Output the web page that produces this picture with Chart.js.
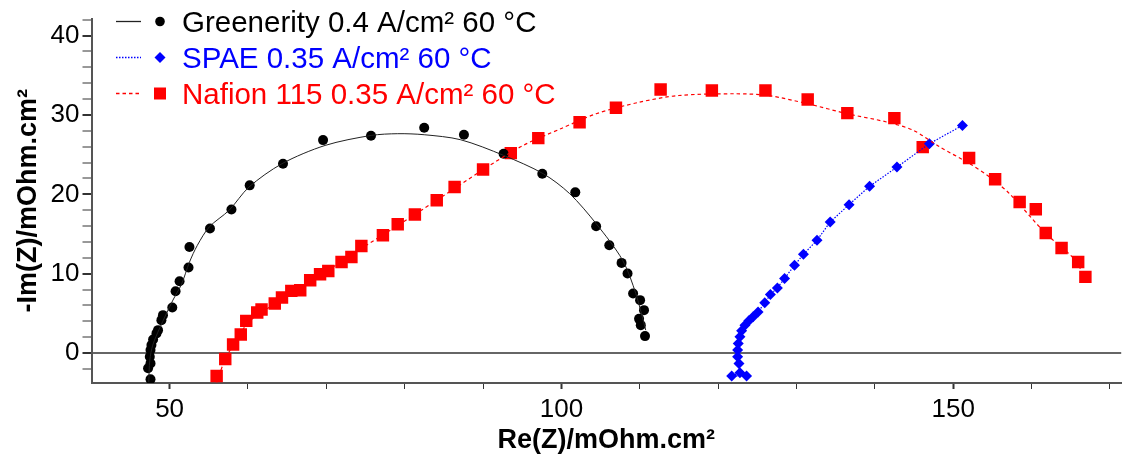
<!DOCTYPE html>
<html>
<head>
<meta charset="utf-8">
<script src="https://cdn.jsdelivr.net/npm/chart.js@4.4.1/dist/chart.umd.min.js"></script>
<style>
  html, body { margin: 0; padding: 0; background: #fff; }
  #wrap { width: 1130px; height: 461px; }
</style>
</head>
<body>
<div id="wrap"><canvas id="chart" width="1130" height="461"></canvas></div>
<script>
// legend texts
const LABELS = ['Greenerity 0.4 A/cm² 60 °C', 'SPAE 0.35 A/cm² 60 °C', 'Nafion 115 0.35 A/cm² 60 °C'];

// measured points [Re, -Im]
const GREENERITY = [
    [47.56, -3.31], [47.25, -1.92], [47.56, -1.30], [47.47, -0.47], [47.56, 0.38],
    [47.68, 1.01], [47.89, 1.72], [48.32, 2.48], [48.52, 2.89], [48.95, 4.15],
    [49.15, 4.78], [50.34, 5.75], [50.76, 7.80], [51.27, 9.06], [52.41, 10.78],
    [52.53, 13.37], [55.15, 15.69], [57.89, 18.08], [60.22, 21.13], [64.47, 23.86],
    [69.58, 26.83], [75.70, 27.38], [82.49, 28.39], [87.56, 27.51], [92.62, 25.12],
    [97.56, 22.60], [101.77, 20.25], [104.43, 15.97], [106.11, 13.58], [107.68, 11.36],
    [108.44, 10.03], [109.15, 7.51], [110.04, 6.67], [110.54, 5.41], [109.91, 4.31],
    [110.13, 3.52], [110.67, 2.14]
];
const SPAE = [
    [123.63, -2.89], [121.73, -2.89], [122.78, -2.48], [122.66, -1.30], [122.49, -0.47],
    [122.49, 0.38], [122.57, 1.22], [122.78, 2.05], [123.00, 2.81], [123.42, 3.52],
    [123.92, 4.06], [124.47, 4.57], [125.10, 5.19], [125.95, 6.33], [126.67, 7.38],
    [127.56, 8.21], [128.48, 9.40], [129.75, 11.07], [130.89, 12.45], [132.62, 14.21],
    [134.30, 16.52], [136.71, 18.70], [139.33, 21.01], [142.82, 23.43], [146.96, 26.38],
    [151.18, 28.68]
];
const NAFION = [
    [56.00, -2.89], [57.10, -0.75], [58.10, 1.09], [59.08, 2.35], [59.78, 4.06],
    [61.18, 5.12], [61.73, 5.50], [63.42, 6.25], [64.34, 7.01], [65.53, 7.84],
    [66.67, 7.92], [67.94, 9.18], [69.20, 9.94], [70.25, 10.35], [71.94, 11.48],
    [73.20, 12.11], [74.47, 13.50], [77.22, 14.84], [79.11, 16.23], [81.30, 17.45],
    [84.09, 19.25], [86.37, 20.92], [90.00, 23.14], [93.54, 25.19], [97.05, 27.08],
    [102.32, 29.09], [106.96, 30.91], [112.66, 33.21], [119.20, 33.08], [126.04, 33.08],
    [131.43, 31.95], [136.49, 30.23], [142.49, 29.60], [146.11, 25.95], [152.03, 24.57],
    [155.35, 21.89], [158.48, 19.03], [160.54, 18.11], [161.81, 15.13], [163.83, 13.25],
    [165.95, 11.48], [166.87, 9.60]
];

// fitted curves
const GREENERITY_FIT = [
    [47.34, -3.65], [47.47, -0.88], [47.85, 1.01], [48.73, 3.14], [50.42, 6.67],
    [51.52, 8.68], [52.53, 11.45], [53.54, 13.58], [55.06, 15.89], [57.59, 17.99],
    [60.13, 20.92], [64.34, 23.86], [69.84, 26.16], [75.73, 27.42], [79.11, 27.64],
    [82.49, 27.51], [87.13, 26.88], [92.62, 24.91], [97.68, 22.60], [101.05, 20.09],
    [104.43, 16.31], [107.81, 11.70], [109.49, 7.51], [110.76, 2.89]
];
const NAFION_FIT = [
    [56.0, -3.7], [57.1, -0.75], [58.3, 1.3], [60.0, 3.8], [62.0, 5.3], [66.0, 7.8],
    [70.0, 10.3], [74.5, 13.2], [79.0, 16.0], [84.0, 19.2], [90.0, 23.1], [95.0, 26.1],
    [100.0, 28.3], [104.43, 30.15], [109.91, 31.6], [114.97, 32.45], [122.15, 32.67],
    [126.37, 32.45], [131.43, 31.41], [136.49, 30.15], [141.56, 29.1], [144.94, 28.05],
    [148.32, 25.95], [152.11, 23.86], [154.65, 22.18], [157.18, 20.09], [161.81, 15.06],
    [165.19, 12.11], [166.87, 9.6]
];

const X_MIN = 40.03, X_MAX = 171.44, Y_MIN = -3.77, Y_MAX = 42.14;
const FONT = "'Liberation Sans', Arial, sans-serif";

const pts = arr => arr.map(([x, y]) => ({x, y}));

const legendPlugin = {
    id: 'nyquistLegend',
    afterDraw(chart) {
        const ctx = chart.ctx;
        const rows = [
            {color: '#000', line: '#222', dash: [], marker: 'circle'},
            {color: '#0000ff', line: '#0000ff', dash: [1.5, 1.5], marker: 'diamond'},
            {color: '#ff0000', line: '#ff0000', dash: [3.5, 3], marker: 'square'},
        ];
        ctx.save();
        rows.forEach((r, i) => {
            const base = 31.5 + i * 36;
            const my = base - 10;
            ctx.strokeStyle = r.line;
            ctx.lineWidth = 1.3;
            ctx.setLineDash(r.dash);
            ctx.beginPath();
            ctx.moveTo(116, my);
            ctx.lineTo(141, my);
            ctx.stroke();
            ctx.setLineDash([]);
            ctx.fillStyle = r.color;
            ctx.beginPath();
            if (r.marker === 'circle') {
                ctx.arc(160, my, 4.8, 0, Math.PI * 2);
            } else if (r.marker === 'diamond') {
                ctx.moveTo(160, my - 5.5);
                ctx.lineTo(165.5, my);
                ctx.lineTo(160, my + 5.5);
                ctx.lineTo(154.5, my);
                ctx.closePath();
            } else {
                ctx.rect(154, my - 6, 12, 12);
            }
            ctx.fill();
            ctx.font = '29.5px ' + FONT;
            ctx.textBaseline = 'alphabetic';
            ctx.textAlign = 'left';
            ctx.fillText(LABELS[i], 182, base);
        });
        ctx.restore();
    }
};

new Chart(document.getElementById('chart'), {
    type: 'scatter',
    data: {
        datasets: [
            {
                data: pts(GREENERITY_FIT),
                showLine: true,
                tension: 0.3,
                borderColor: '#222',
                borderWidth: 1,
                pointRadius: 0,
            },
            {
                data: pts(NAFION_FIT),
                showLine: true,
                tension: 0.3,
                borderColor: '#ff0000',
                borderWidth: 1.2,
                borderDash: [3.5, 3],
                pointRadius: 0,
            },
            {
                label: LABELS[1],
                data: pts(SPAE),
                showLine: true,
                borderColor: '#0000ff',
                borderWidth: 1.2,
                borderDash: [1.5, 1.5],
                backgroundColor: '#0000ff',
                pointStyle: 'rectRot',
                pointRadius: 5.5,
                pointBorderWidth: 0,
            },
            {
                label: LABELS[0],
                data: pts(GREENERITY),
                backgroundColor: '#000',
                pointStyle: 'circle',
                pointRadius: 5,
                pointBorderWidth: 0,
            },
            {
                label: LABELS[2],
                data: pts(NAFION),
                backgroundColor: '#ff0000',
                pointStyle: 'rect',
                pointRadius: 8.8,
                pointBorderWidth: 0,
            },
        ]
    },
    options: {
        responsive: false,
        animation: false,
        layout: {padding: {top: 18, right: 1, left: 0, bottom: 0}},
        scales: {
            x: {
                type: 'linear',
                min: X_MIN,
                max: X_MAX,
                afterFit: s => { s.height = 78; },
                border: {color: '#555', width: 2},
                grid: {
                    drawOnChartArea: false,
                    tickLength: 6,
                    tickColor: '#333',
                    tickWidth: c => (c.tick && c.tick.value % 50 === 0 ? 2 : 1),
                },
                ticks: {
                    stepSize: 10,
                    includeBounds: false,
                    autoSkip: false,
                    maxRotation: 0,
                    padding: 5,
                    color: '#000',
                    font: {family: FONT, size: 26},
                    callback: v => (v % 50 === 0 ? v : ''),
                },
                title: {
                    display: true,
                    text: 'Re(Z)/mOhm.cm²',
                    color: '#000',
                    font: {family: FONT, size: 27, weight: 'bold'},
                    padding: {top: 0, bottom: 4},
                },
            },
            y: {
                type: 'linear',
                min: Y_MIN,
                max: Y_MAX,
                afterFit: s => { s.width = 91.5; },
                border: {color: '#555', width: 2},
                grid: {
                    tickLength: 9,
                    tickColor: '#333',
                    tickWidth: c => (c.tick && c.tick.value % 10 === 0 ? 2 : 1),
                    color: c => (c.tick && c.tick.value === 0 ? '#666' : 'rgba(0,0,0,0)'),
                    lineWidth: 2,
                },
                ticks: {
                    stepSize: 2,
                    includeBounds: false,
                    autoSkip: false,
                    padding: 3,
                    color: '#000',
                    font: {family: FONT, size: 26},
                    callback: v => (v % 10 === 0 ? v : ''),
                },
                title: {
                    display: true,
                    text: '-Im(Z)/mOhm.cm²',
                    color: '#000',
                    font: {family: FONT, size: 27, weight: 'bold'},
                    padding: {top: 12, bottom: 0},
                },
            },
        },
        plugins: {
            legend: {display: false},
            tooltip: {enabled: false},
        },
    },
    plugins: [legendPlugin],
});
</script>
</body>
</html>
